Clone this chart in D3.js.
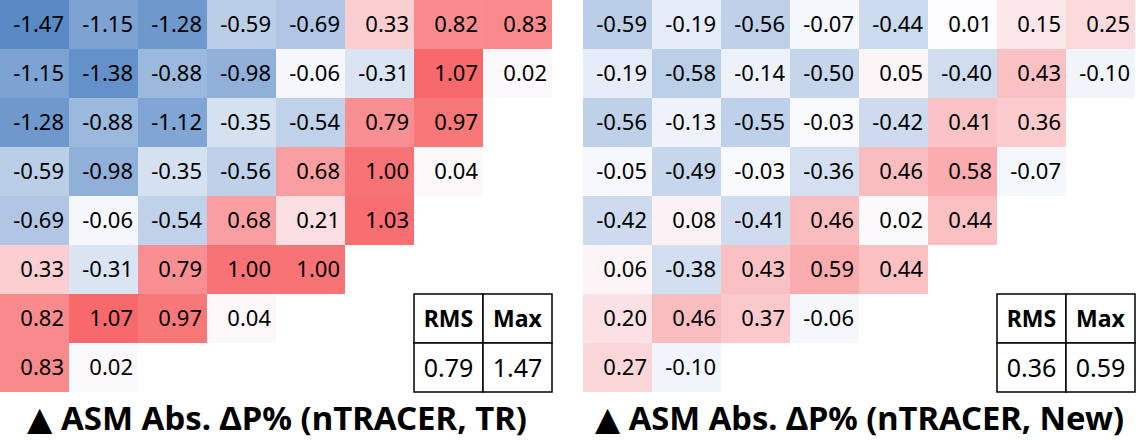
<!DOCTYPE html>
<html><head><meta charset="utf-8">
<script src="https://cdn.jsdelivr.net/npm/d3@7"></script>
<style>body{margin:0;background:#fff;} svg{display:block;}</style>
</head><body>
<svg id="c" width="1136" height="440"></svg>
<script>
const rowsTR = [
  [-1.47,-1.15,-1.28,-0.59,-0.69,0.33,0.82,0.83],
  [-1.15,-1.38,-0.88,-0.98,-0.06,-0.31,1.07,0.02],
  [-1.28,-0.88,-1.12,-0.35,-0.54,0.79,0.97],
  [-0.59,-0.98,-0.35,-0.56,0.68,1.00,0.04],
  [-0.69,-0.06,-0.54,0.68,0.21,1.03],
  [0.33,-0.31,0.79,1.00,1.00],
  [0.82,1.07,0.97,0.04],
  [0.83,0.02]
];
const rowsNew = [
  [-0.59,-0.19,-0.56,-0.07,-0.44,0.01,0.15,0.25],
  [-0.19,-0.58,-0.14,-0.50,0.05,-0.40,0.43,-0.10],
  [-0.56,-0.13,-0.55,-0.03,-0.42,0.41,0.36],
  [-0.05,-0.49,-0.03,-0.36,0.46,0.58,-0.07],
  [-0.42,0.08,-0.41,0.46,0.02,0.44],
  [0.06,-0.38,0.43,0.59,0.44],
  [0.20,0.46,0.37,-0.06],
  [0.27,-0.10]
];
const statHeaders = ["RMS","Max"];
const statsTR = ["0.79","1.47"];
const statsNew = ["0.36","0.59"];
const titles = ["▲ ASM Abs. ΔP% (nTRACER, TR)","▲ ASM Abs. ΔP% (nTRACER, New)"];

const svg = d3.select("#c");
const N = 8;
const color = d3.scaleLinear().domain([-1.47,0,1.07]).range(["#5A8AC6","#FCFCFF","#F8696B"]);
const font = "'Noto Sans', 'DejaVu Sans', sans-serif";

function panel(x0, rows, stats, title, titleX, titleW){
  const g = svg.append("g").attr("transform",`translate(${x0},0)`);
  const x = d3.scaleBand().domain(d3.range(N)).range([0,552]);
  const y = d3.scaleBand().domain(d3.range(N)).range([0,392]);
  const cells = [];
  rows.forEach((r,i)=>r.forEach((v,j)=>cells.push({i,j,v})));
  const cg = g.selectAll("g.cell").data(cells).join("g").attr("class","cell");
  cg.append("rect")
    .attr("x",d=>x(d.j)).attr("y",d=>y(d.i))
    .attr("width",x.bandwidth()).attr("height",y.bandwidth())
    .attr("fill",d=>color(d.v));
  cg.append("text")
    .attr("x",d=>x(d.j)+x.bandwidth()-5)
    .attr("y",d=>y(d.i)+y.bandwidth()/2)
    .attr("dy","0.36em")
    .attr("text-anchor","end")
    .style("font-family",font).style("font-size","22px").attr("fill","#000")
    .text(d=>d.v.toFixed(2));
  const tg = g.append("g");
  const tcells = [];
  statHeaders.forEach((h,k)=>tcells.push({r:6,c:6+k,t:h,b:true}));
  stats.forEach((s,k)=>tcells.push({r:7,c:6+k,t:s,b:false}));
  tg.selectAll("rect").data(tcells).join("rect")
    .attr("x",d=>x(d.c)).attr("y",d=>y(d.r))
    .attr("width",x.bandwidth()).attr("height",y.bandwidth())
    .attr("fill","#fff").attr("stroke","#000").attr("stroke-width",1.5);
  tg.selectAll("text").data(tcells).join("text")
    .attr("x",d=>x(d.c)+x.bandwidth()/2)
    .attr("y",d=>y(d.r)+y.bandwidth()/2)
    .attr("dy","0.36em").attr("text-anchor","middle")
    .style("font-family",font)
    .style("font-size",d=>d.b?"23px":"25px")
    .style("font-weight",d=>d.b?"bold":"normal")
    .text(d=>d.t);
  g.append("text")
    .attr("x",titleX).attr("y",430)
    .attr("textLength",titleW).attr("lengthAdjust","spacingAndGlyphs")
    .style("font-family",font).style("font-size","33px").style("font-weight","bold")
    .text(title);
}
panel(0, rowsTR, statsTR, titles[0], 27, 500);
panel(583, rowsNew, statsNew, titles[1], 12, 529);
</script>
</body></html>
